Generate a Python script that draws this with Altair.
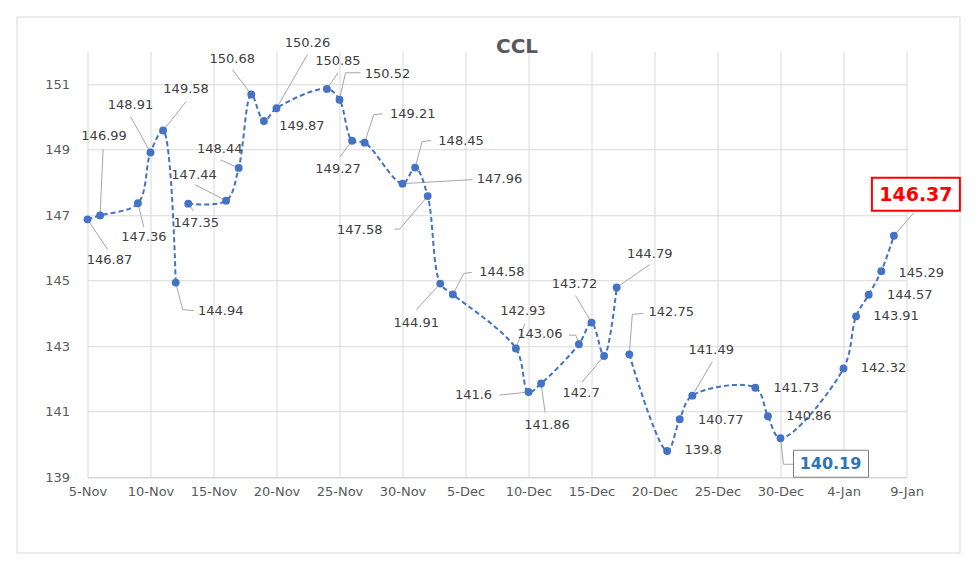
import altair as alt
import pandas as pd

# ---------------- data ----------------
dates = ["2020-11-05", "2020-11-06", "2020-11-09", "2020-11-10", "2020-11-11", "2020-11-12",
         "2020-11-13", "2020-11-16", "2020-11-17", "2020-11-18", "2020-11-19", "2020-11-20",
         "2020-11-24", "2020-11-25", "2020-11-26", "2020-11-27", "2020-11-30", "2020-12-01",
         "2020-12-02", "2020-12-03", "2020-12-04", "2020-12-09", "2020-12-10", "2020-12-11",
         "2020-12-14", "2020-12-15", "2020-12-16", "2020-12-17", "2020-12-18", "2020-12-21",
         "2020-12-22", "2020-12-23", "2020-12-28", "2020-12-29", "2020-12-30", "2021-01-04",
         "2021-01-05", "2021-01-06", "2021-01-07", "2021-01-08"]
values = [146.87, 146.99, 147.36, 148.91, 149.58, 144.94, 147.35, 147.44, 148.44, 150.68,
          149.87, 150.26, 150.85, 150.52, 149.27, 149.21, 147.96, 148.45, 147.58, 144.91,
          144.58, 142.93, 141.6, 141.86, 143.06, 143.72, 142.7, 144.79, 142.75, 139.8,
          140.77, 141.49, 141.73, 140.86, 140.19, 142.32, 143.91, 144.57, 145.29, 146.37]
gaps_after = ["2020-11-12", "2020-12-17"]   # line is broken after these dates
x_domain = ["2020-11-05", "2021-01-09"]
x_ticks = ["2020-11-05", "2020-11-10", "2020-11-15", "2020-11-20", "2020-11-25", "2020-11-30",
           "2020-12-05", "2020-12-10", "2020-12-15", "2020-12-20", "2020-12-25", "2020-12-30",
           "2021-01-04", "2021-01-09"]
y_ticks = [139, 141, 143, 145, 147, 149, 151]
y_domain = [139, 152]

# ---------------- layout (pixels, relative to each point) ----------------
W, H = 819, 426
PAD_L, PAD_T = 87.5, 51.25
label_off = [(22, 41), (4, -79), (6, 34), (-20, -48), (23, -42), (45, 28), (8, 19), (-32, -26),
             (-19, -19), (-19, -36), (38, 5), (31, -65), (11, -28), (48, -26), (-14, 28),
             (48, -29), (97, -5), (46, -27), (-68, 34), (-24, 39), (49, -22), (7, -37),
             (-55, 3), (6, 41), (-39, -10), (-17, -39), (-23, 37), (33, -34), (42, -42),
             (36, -1), (41, 1), (19, -46), (41, 0), (41, 0), (50, 26), (40, 0), (40, 0),
             (41, 0), (40, 2), (22, -41)]
leaders = {0: [(20, 30)], 1: [(3, -66)], 2: [(6, 24)], 3: [(-20, -36)], 4: [(23, -29)],
           5: [(7, 27), (18, 28)], 6: [(5, 7)], 7: [(-31, -16)], 8: [(-18, -8)],
           9: [(-19, -25)], 11: [(31, -54)], 12: [(11, -16)], 13: [(6, -27), (21, -27)],
           14: [(-12, 16)], 15: [(9, -28), (18, -29)], 16: [(70, -4)],
           17: [(7, -26), (16, -27)], 18: [(-28, 33), (-33, 33)], 19: [(-24, 26)],
           20: [(11, -21), (19, -22)], 21: [(9, -25)], 22: [(-29, 3)], 23: [(4, 29)],
           24: [(-3, -9), (-10, -9)], 25: [(-16, -27)], 26: [(-22, 26)], 27: [(33, -23)],
           28: [(3, -40), (14, -41)], 31: [(20, -34)], 34: [(3, 26), (13, 26)],
           39: [(20, -23)]}
# highlighted labels: index -> (box x1, x2, y1, y2, box stroke, stroke width, text colour, size)
special = {34: (13, 88, 12, 39, "#7F7F7F", 1, "#2E75B6", 16),
           39: (-22, 66, -58, -25, "#FF0000", 2, "#FF0000", 19)}

# ---------------- build tables ----------------
DAY = 86400000
ms = lambda s: int(pd.Timestamp(s, tz="UTC").timestamp() * 1000)
ppd = W / ((ms(x_domain[1]) - ms(x_domain[0])) / DAY)
ppu = H / (y_domain[1] - y_domain[0])
xo = lambda i, px: ms(dates[i]) + px / ppd * DAY
yo = lambda i, px: values[i] - px / ppu

seg, s = [], 0
for d in dates:
    seg.append(s)
    if d in gaps_after:
        s += 1
pts = pd.DataFrame({"x": [ms(d) for d in dates], "y": values, "seg": seg})

lead_rows = []
for i, path in leaders.items():
    lead_rows.append({"id": i, "k": 0, "x": ms(dates[i]), "y": values[i]})
    for k, (dx, dy) in enumerate(path):
        lead_rows.append({"id": i, "k": k + 1, "x": xo(i, dx), "y": yo(i, dy)})
lead = pd.DataFrame(lead_rows)

lab_rows, sp_rows, box_rows = [], [], []
for i, (dx, dy) in enumerate(label_off):
    row = {"x": xo(i, dx), "y": yo(i, dy), "t": f"{values[i]:g}"}
    if i in special:
        bx1, bx2, by1, by2, bs, bw, tc, ts = special[i]
        row.update({"c": tc, "s": ts})
        sp_rows.append(row)
        box_rows.append({"x": xo(i, bx1), "x2": xo(i, bx2), "y": yo(i, by1), "y2": yo(i, by2),
                         "c": bs, "w": bw})
    else:
        lab_rows.append(row)
labs, sps, boxes = pd.DataFrame(lab_rows), pd.DataFrame(sp_rows), pd.DataFrame(box_rows)

# ---------------- encodings ----------------
xaxis = alt.Axis(values=[ms(t) for t in x_ticks], labelExpr="utcFormat(datum.value, '%-d-%b')",
                 grid=True, gridColor="#D9D9D9", domainColor="#D0D0D0", ticks=False,
                 labelFont="DejaVu Sans", labelFontSize=13, labelColor="#595959",
                 labelPadding=8, labelOverlap=False, labelFlush=False, title="")
yaxis = alt.Axis(values=y_ticks, grid=True, gridColor="#D9D9D9", domain=False, ticks=False,
                 labelFont="DejaVu Sans", labelFontSize=13, labelColor="#595959",
                 labelPadding=18, labelFlush=False, title="")
xs = alt.Scale(type="utc", domain=[ms(x_domain[0]), ms(x_domain[1])], nice=False)
ys = alt.Scale(domain=y_domain, nice=False, zero=False)
X = lambda f="x": alt.X(f"{f}:T", scale=xs, axis=xaxis)
Y = lambda f="y": alt.Y(f"{f}:Q", scale=ys, axis=yaxis)

frame = alt.Chart(pd.DataFrame({"a": [0]})).mark_rect(
    fill="white", fillOpacity=0, stroke="#D9D9D9", strokeWidth=1
).encode(x=alt.value(17 - PAD_L), x2=alt.value(960 - PAD_L),
         y=alt.value(17 - PAD_T), y2=alt.value(553 - PAD_T))

lead_l = alt.Chart(lead).mark_line(color="#A6A6A6", strokeWidth=1).encode(
    x=X(), y=Y(), detail="id:N", order="k:Q")

line = alt.Chart(pts).mark_line(color="#4472C4", strokeWidth=2, strokeDash=[5, 3],
                                interpolate="catmull-rom").encode(
    x=X(), y=Y(), detail="seg:N")

dots = alt.Chart(pts).mark_circle(color="#4472C4", size=62, opacity=1).encode(x=X(), y=Y())

box_l = alt.Chart(boxes).mark_rect(fill="white").encode(
    x=X(), x2="x2:T", y=Y(), y2="y2:Q",
    stroke=alt.Color("c:N", scale=None), strokeWidth=alt.StrokeWidth("w:Q", scale=None))

text_l = alt.Chart(labs).mark_text(font="DejaVu Sans", fontSize=13, color="#404040",
                                   align="center", baseline="middle").encode(
    x=X(), y=Y(), text="t:N")

sp_l = alt.Chart(sps).mark_text(font="DejaVu Sans", fontWeight="bold", align="center",
                                baseline="middle").encode(
    x=X(), y=Y(), text="t:N", color=alt.Color("c:N", scale=None),
    size=alt.Size("s:Q", scale=None))

chart = alt.layer(frame, lead_l, line, dots, box_l, text_l, sp_l).properties(
    width=W, height=H,
    title=alt.TitleParams("CCL", font="DejaVu Sans", fontSize=20, fontWeight="bold",
                          color="#595959", anchor="middle", frame="group", offset=0,
                          dx=20, dy=56, baseline="alphabetic"),
    autosize=alt.AutoSizeParams(type="none"),
    padding={"left": PAD_L, "top": PAD_T, "right": 980 - PAD_L - W, "bottom": 571 - PAD_T - H},
    background="white",
).configure_view(strokeWidth=0)

chart.save("out.html", embed_options={"renderer": "svg", "actions": False})
